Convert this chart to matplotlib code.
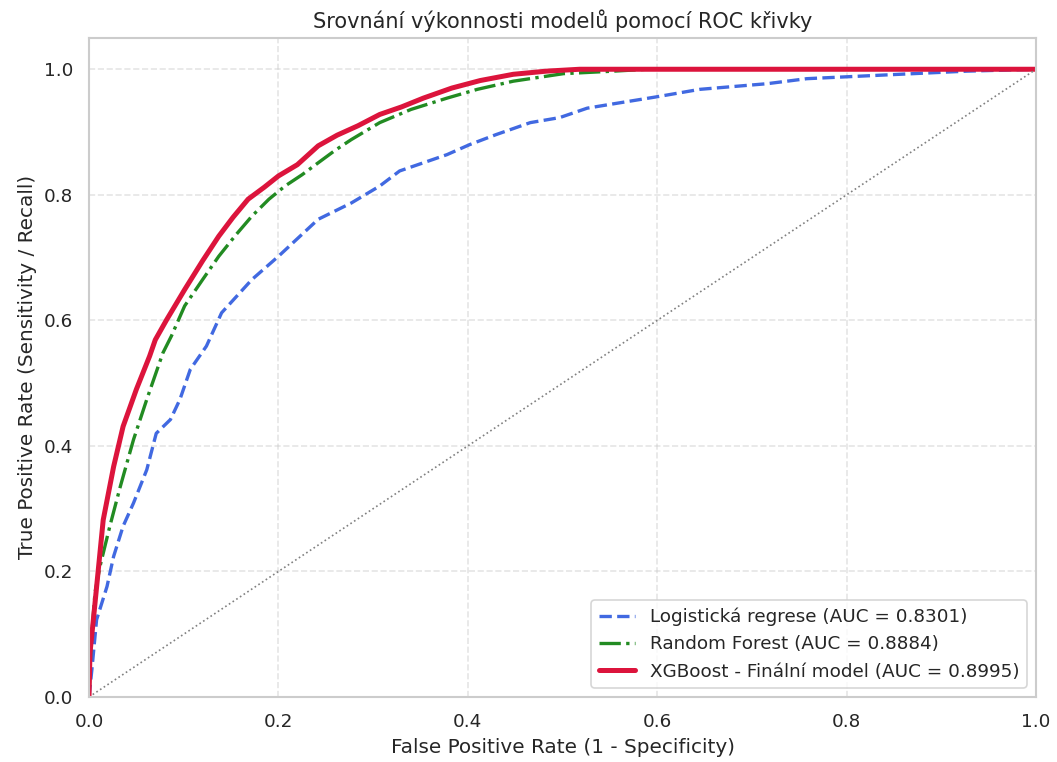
import matplotlib
matplotlib.use("Agg")
import matplotlib.pyplot as plt
import seaborn as sns

# ============================================================
# Body ROC krivek
# ============================================================
lr_fpr = [0.0, 0.003, 0.008, 0.019, 0.026, 0.036, 0.047, 0.061, 0.071, 0.086, 0.096,
          0.107, 0.124, 0.140, 0.172, 0.200, 0.242, 0.277, 0.307, 0.328, 0.378, 0.402,
          0.430, 0.466, 0.497, 0.526, 0.554, 0.599, 0.645, 0.716, 0.758, 0.800, 0.856,
          0.927, 1.0]
lr_tpr = [0.0, 0.043, 0.123, 0.176, 0.224, 0.272, 0.309, 0.362, 0.420, 0.442, 0.474,
          0.522, 0.559, 0.612, 0.665, 0.702, 0.761, 0.787, 0.814, 0.838, 0.864, 0.880,
          0.896, 0.915, 0.923, 0.938, 0.945, 0.956, 0.968, 0.977, 0.985, 0.988, 0.992,
          0.997, 1.0]

rf_fpr = [0.0, 0.002, 0.0063, 0.0116, 0.022, 0.033, 0.047, 0.061, 0.078, 0.087, 0.101,
          0.120, 0.137, 0.155, 0.172, 0.190, 0.207, 0.225, 0.242, 0.260, 0.277, 0.307,
          0.340, 0.378, 0.410, 0.448, 0.501, 0.554, 0.589, 1.0]
rf_tpr = [0.0, 0.08, 0.166, 0.208, 0.272, 0.335, 0.410, 0.474, 0.548, 0.575, 0.623,
          0.665, 0.702, 0.736, 0.766, 0.793, 0.814, 0.832, 0.851, 0.871, 0.888, 0.915,
          0.936, 0.954, 0.968, 0.981, 0.993, 0.997, 1.0, 1.0]

xgb_fpr = [0.0, 0.001, 0.0046, 0.015, 0.026, 0.036, 0.050, 0.064, 0.070, 0.082, 0.101,
           0.120, 0.137, 0.152, 0.168, 0.185, 0.200, 0.220, 0.242, 0.262, 0.284, 0.307,
           0.330, 0.353, 0.383, 0.413, 0.448, 0.483, 0.518, 1.0]
xgb_tpr = [0.0, 0.07, 0.123, 0.282, 0.367, 0.431, 0.490, 0.543, 0.569, 0.601, 0.649,
           0.695, 0.734, 0.764, 0.793, 0.812, 0.830, 0.848, 0.878, 0.895, 0.910, 0.928,
           0.940, 0.954, 0.970, 0.982, 0.992, 0.997, 1.0, 1.0]

labels = ["Logistická regrese (AUC = 0.8301)",
          "Random Forest (AUC = 0.8884)",
          "XGBoost - Finální model (AUC = 0.8995)"]

# ============================================================
# Graf
# ============================================================
sns.set_theme(style="whitegrid")
dpi = 120
fig = plt.figure(figsize=(1057 / dpi, 762 / dpi), dpi=dpi)
ax = fig.add_axes([0.0842, 0.0853, 0.8960, 0.8650])

ax.plot(lr_fpr, lr_tpr, color="royalblue", linestyle="--", linewidth=2, label=labels[0])
ax.plot(rf_fpr, rf_tpr, color="forestgreen", linestyle="-.", linewidth=2, label=labels[1])
ax.plot(xgb_fpr, xgb_tpr, color="crimson", linestyle="-", linewidth=3, label=labels[2])
ax.plot([0, 1], [0, 1], color="gray", linestyle=":", linewidth=1)

ax.set_xlim(0.0, 1.0)
ax.set_ylim(0.0, 1.05)
ax.set_xlabel("False Positive Rate (1 - Specificity)", fontsize=12)
ax.set_ylabel("True Positive Rate (Sensitivity / Recall)", fontsize=12)
ax.set_title("Srovnání výkonnosti modelů pomocí ROC křivky", fontsize=12.5)
ax.tick_params(labelsize=11)
ax.grid(True, linestyle="--", alpha=0.5)
ax.legend(loc="lower right", fontsize=11)

fig.savefig("out.png", dpi=dpi)
